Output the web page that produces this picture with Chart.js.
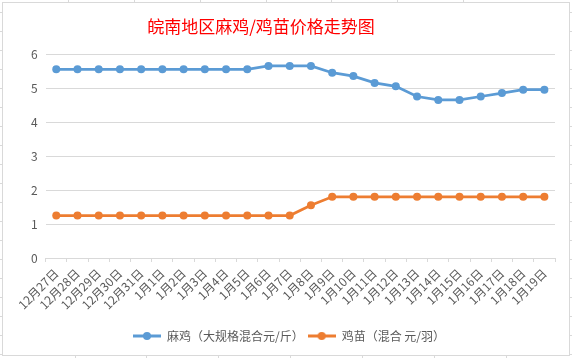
<!DOCTYPE html>
<html>
<head>
<meta charset="utf-8">
<script src="https://cdn.jsdelivr.net/npm/chart.js@4.4.1/dist/chart.umd.min.js"></script>
<style>
  html, body { margin: 0; padding: 0; background: #ffffff; }
  body { width: 572px; height: 358px; position: relative; overflow: hidden; }
  #frame { position: absolute; left: 2px; top: 2px; width: 566px; height: 352px; border: 1px solid #d9d9d9; background: #fff; }
  #wrap { position: absolute; left: 3px; top: 3px; width: 566px; height: 352px; }
  .gl { position: absolute; background: #d9d9d9; }
</style>
</head>
<body>
<div id="sheet"></div>
<div id="frame"></div>
<div id="wrap"><canvas id="c" width="566" height="352"></canvas></div>
<script>
// ---- data ----
const titleText = '皖南地区麻鸡/鸡苗价格走势图';
const categories = ['12月27日','12月28日','12月29日','12月30日','12月31日','1月1日','1月2日','1月3日','1月4日','1月5日','1月6日','1月7日','1月8日','1月9日','1月10日','1月11日','1月12日','1月13日','1月14日','1月15日','1月16日','1月17日','1月18日','1月19日'];
const majiName = '麻鸡（大规格混合元/斤）';
const majiValues = [5.55,5.55,5.55,5.55,5.55,5.55,5.55,5.55,5.55,5.55,5.65,5.65,5.65,5.45,5.35,5.15,5.05,4.75,4.65,4.65,4.75,4.85,4.95,4.95];
const jimiaoName = '鸡苗（混合 元/羽）';
const jimiaoValues = [1.25,1.25,1.25,1.25,1.25,1.25,1.25,1.25,1.25,1.25,1.25,1.25,1.55,1.8,1.8,1.8,1.8,1.8,1.8,1.8,1.8,1.8,1.8,1.8];
const yTicks = [0,1,2,3,4,5,6];

// spreadsheet cell lines outside the chart frame
(function(){
  const sheet = document.getElementById('sheet');
  function add(l,t,w,h){ const d=document.createElement('div'); d.className='gl'; d.style.left=l+'px'; d.style.top=t+'px'; d.style.width=w+'px'; d.style.height=h+'px'; sheet.appendChild(d); }
  [68,134,200,266,331,397,463].forEach(x=>add(x,0,1,2));
  [75,146,218,290,362,434,506].forEach(x=>add(x,356,1,2));
  for (let y=12; y<358; y+=19){ add(0,y,2,1); add(570,y,2,1); }
})();

function legendImg(color){
  const cv = document.createElement('canvas');
  cv.width = 28; cv.height = 10;
  const x = cv.getContext('2d');
  x.strokeStyle = color; x.lineWidth = 3;
  x.beginPath(); x.moveTo(0,5); x.lineTo(28,5); x.stroke();
  x.fillStyle = color; x.beginPath(); x.arc(14,5,4,0,Math.PI*2); x.fill();
  return cv;
}

const titlePlugin = {
  id: 'customTitle',
  afterDraw(chart){
    const ctx = chart.ctx;
    ctx.save();
    ctx.font = '17px "Noto Sans CJK SC", sans-serif';
    ctx.fillStyle = '#ff0000';
    ctx.textAlign = 'center';
    ctx.textBaseline = 'middle';
    ctx.fillText(titleText, 258, 24);
    ctx.restore();
  }
};

const blue = '#5b9bd5', orange = '#ed7d31', txt = '#595959', grid = '#d9d9d9';
const imgs = [legendImg(blue), legendImg(orange)];

new Chart(document.getElementById('c'), {
  type: 'line',
  data: {
    labels: categories,
    datasets: [
      { label: majiName, data: majiValues, borderColor: blue, backgroundColor: blue, borderWidth: 2.75, pointRadius: 4, pointBackgroundColor: blue, pointBorderWidth: 0, tension: 0 },
      { label: jimiaoName, data: jimiaoValues, borderColor: orange, backgroundColor: orange, borderWidth: 2.75, pointRadius: 4, pointBackgroundColor: orange, pointBorderWidth: 0, tension: 0 }
    ]
  },
  options: {
    responsive: false,
    animation: false,
    devicePixelRatio: 1,
    layout: { padding: { top: 51, left: 20, right: 14, bottom: 3 } },
    plugins: {
      title: { display: false },
      tooltip: { enabled: false },
      legend: {
        position: 'bottom',
        labels: {
          usePointStyle: true,
          pointStyleWidth: 28,
          color: txt,
          font: { size: 12, family: '"Noto Sans CJK SC", sans-serif' },
          padding: 4,
          generateLabels(chart){
            return chart.data.datasets.map((ds,i)=>({
              text: ds.label, fillStyle: ds.borderColor, strokeStyle: ds.borderColor,
              lineWidth: 0, pointStyle: imgs[i], datasetIndex: i, hidden: false, fontColor: txt
            }));
          }
        }
      }
    },
    scales: {
      x: {
        offset: true,
        afterFit(scale){ scale.height += 10; },
        grid: { offset: true, drawOnChartArea: false, drawTicks: true, tickLength: 4, color: grid },
        border: { display: true, color: grid, width: 1 },
        ticks: { color: txt, font: { size: 12, family: '"Noto Sans CJK SC", sans-serif' }, minRotation: 45, maxRotation: 45, autoSkip: false, padding: 4 }
      },
      y: {
        min: 0, max: 6,
        afterBuildTicks(scale){ scale.ticks = yTicks.map(v=>({value:v})); },
        grid: { color: grid, drawTicks: false, lineWidth: 1 },
        border: { display: false },
        ticks: { color: txt, font: { size: 12, family: '"Noto Sans CJK SC", sans-serif' }, padding: 8 }
      }
    }
  },
  plugins: [titlePlugin]
});
</script>
</body>
</html>
